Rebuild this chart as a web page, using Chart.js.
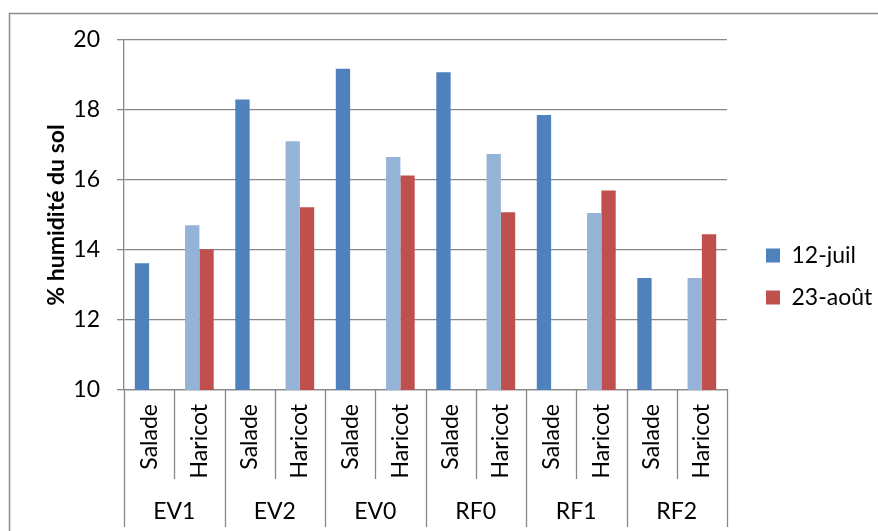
<!DOCTYPE html>
<html>
<head>
<meta charset="utf-8">
<script src="https://cdn.jsdelivr.net/npm/chart.js@4.4.1/dist/chart.umd.min.js"></script>
<style>
    html, body { margin: 0; padding: 0; background: #fff; }
    #wrap { position: relative; width: 878px; height: 531px; }
</style>
</head>
<body>
<div id="wrap"><canvas id="humChart" width="878" height="531"></canvas></div>
<script>
const sites = ['EV1', 'EV2', 'EV0', 'RF0', 'RF1', 'RF2'];
const crops = ['Salade', 'Haricot'];
const categories = sites.flatMap(() => crops);
const seriesNames = ['12-juil', '23-août'];
const juil = [13.62, 14.71, 18.30, 17.11, 19.18, 16.66, 19.08, 16.74, 17.86, 15.06, 13.20, 13.20];
const aout = [null, 14.02, null, 15.22, null, 16.13, null, 15.08, null, 15.70, null, 14.45];
const yTicks = [10, 12, 14, 16, 18, 20];

const BLUE = '#4F81BD';
const LIGHT_BLUE = '#95B3D7';
const RED = '#C0504D';
const LINE = '#888888';
const FONT = 'Lato, "Open Sans", sans-serif';
const FONT_SIZE = 23;

// legend width as Chart.js computes it, so the plot ends at x=727
const LEG_PAD = 19, LEG_BOX = 14;
const mctx = document.createElement('canvas').getContext('2d');
mctx.font = FONT_SIZE + 'px ' + FONT;
const legTextW = Math.max(...seriesNames.map(s => mctx.measureText(s).width));
const legendW = LEG_PAD + LEG_BOX + FONT_SIZE / 2 + legTextW + 10;
const padRight = Math.max(0, 878 - 727 - legendW);

// frame, category separators and group labels (EV1, EV2 ...)
const multiLevelAxis = {
    id: 'multiLevelAxis',
    afterLayout(chart) {
        // legend sits a bit away from the plot in the original
        const lg = chart.legend;
        const dx = 766 - LEG_PAD - lg.left;
        lg.left += dx; lg.right += dx;
        lg.top -= 9; lg.bottom -= 9;
    },
    afterDraw(chart) {
        const ctx = chart.ctx;
        const x = chart.scales.x;
        const area = chart.chartArea;
        const n = categories.length;
        const edges = [];
        for (let i = 0; i <= n; i++) {
            if (i === 0) edges.push(area.left);
            else if (i === n) edges.push(area.right);
            else edges.push((x.getPixelForValue(i - 1) + x.getPixelForValue(i)) / 2);
        }
        ctx.save();
        ctx.strokeStyle = LINE;
        ctx.lineWidth = 1.3;
        edges.forEach((ex, i) => {
            const px = Math.round(ex) + 0.5;
            ctx.beginPath();
            ctx.moveTo(px, area.bottom);
            ctx.lineTo(px, i % crops.length === 0 ? 527 : 479);
            ctx.stroke();
        });
        ctx.fillStyle = '#000';
        ctx.font = FONT_SIZE + 'px ' + FONT;
        ctx.textAlign = 'center';
        ctx.textBaseline = 'middle';
        sites.forEach((s, g) => {
            const cx = (edges[g * 2] + edges[g * 2 + 2]) / 2;
            ctx.fillText(s, cx, 512);
        });
        // outer frame
        ctx.strokeStyle = '#8c8c8c';
        ctx.lineWidth = 1.5;
        ctx.beginPath();
        ctx.moveTo(9.5, 540);
        ctx.lineTo(9.5, 13.5);
        ctx.lineTo(890, 13.5);
        ctx.stroke();
        ctx.restore();
    }
};

new Chart(document.getElementById('humChart'), {
    type: 'bar',
    data: {
        labels: categories,
        datasets: [
            {
                label: seriesNames[0],
                data: juil,
                backgroundColor: (c) => c.dataIndex % 2 === 1 ? LIGHT_BLUE : BLUE
            },
            {
                label: seriesNames[1],
                data: aout,
                backgroundColor: RED
            }
        ]
    },
    options: {
        responsive: false,
        animation: false,
        devicePixelRatio: 1,
        categoryPercentage: 0.57,
        barPercentage: 1,
        layout: { padding: { top: 40, right: padRight, bottom: 0, left: 0 } },
        plugins: {
            legend: {
                position: 'right',
                labels: {
                    boxWidth: LEG_BOX,
                    boxHeight: LEG_BOX,
                    padding: LEG_PAD,
                    color: '#000',
                    font: { family: FONT, size: FONT_SIZE }
                }
            },
            tooltip: { enabled: false }
        },
        scales: {
            x: {
                grid: { display: false, drawTicks: false },
                border: { color: LINE, width: 1.3 },
                ticks: {
                    autoSkip: false,
                    minRotation: 90,
                    maxRotation: 90,
                    padding: 14,
                    color: '#000',
                    font: { family: FONT, size: FONT_SIZE }
                },
                afterFit: (s) => { s.height = 141; }
            },
            y: {
                min: 10,
                max: 20,
                afterBuildTicks: (s) => { s.ticks = yTicks.map(v => ({ value: v })); },
                grid: { color: LINE, lineWidth: 1.3, tickLength: 7 },
                border: { color: LINE, width: 1.3 },
                ticks: {
                    padding: 17,
                    color: '#000',
                    font: { family: FONT, size: FONT_SIZE }
                },
                title: {
                    display: true,
                    text: '% humidité du sol',
                    color: '#000',
                    padding: { top: 43 },
                    font: { family: FONT, size: FONT_SIZE, weight: 'bold' }
                },
                afterFit: (s) => { s.width = 124; }
            }
        }
    },
    plugins: [multiLevelAxis]
});
</script>
</body>
</html>
